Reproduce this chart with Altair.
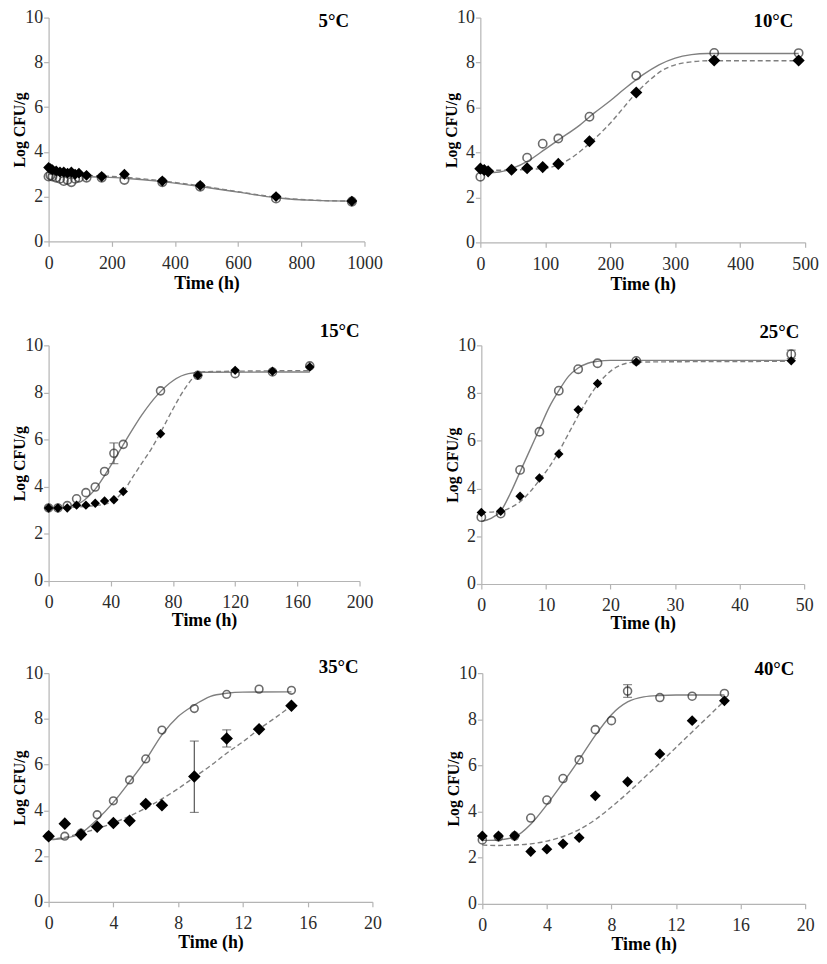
import altair as alt
import pandas as pd

FONT = "Liberation Serif"
AXIS_GRAY = "#b4b4b4"
LINE_GRAY = "#7f7f7f"

# ---------------- 5 °C ----------------
t5_circ_t = [0, 6, 12, 24, 36, 48, 60, 72, 84, 96, 120, 168, 240, 360, 480, 720, 960]
t5_circ_v = [2.9, 2.95, 2.9, 2.85, 2.8, 2.7, 2.75, 2.65, 2.8, 2.85, 2.85, 2.85, 2.75, 2.65, 2.45, 1.92, 1.78]
t5_dia_t = [0, 6, 12, 24, 36, 48, 60, 72, 84, 96, 120, 168, 240, 360, 480, 720, 960]
t5_dia_v = [3.3, 3.25, 3.2, 3.15, 3.1, 3.1, 3.05, 3.1, 3.0, 3.05, 2.95, 2.9, 3.0, 2.7, 2.5, 2.0, 1.8]
t5_fit_c_t = [0, 120, 240, 360, 480, 600, 720, 840, 960]
t5_fit_c_v = [3.0, 2.9, 2.82, 2.67, 2.45, 2.2, 1.95, 1.83, 1.8]
t5_fit_d_t = [0, 120, 240, 360, 480, 600, 720, 840, 960]
t5_fit_d_v = [3.05, 2.95, 2.87, 2.7, 2.48, 2.22, 1.97, 1.84, 1.8]

# ---------------- 10 °C ----------------
t10_circ_t = [0, 72, 96, 120, 168, 240, 360, 490]
t10_circ_v = [2.92, 3.77, 4.39, 4.62, 5.59, 7.42, 8.43, 8.42]
t10_dia_t = [0, 6, 12, 48, 72, 96, 120, 168, 240, 360, 490]
t10_dia_v = [3.28, 3.22, 3.16, 3.23, 3.3, 3.35, 3.49, 4.5, 6.67, 8.09, 8.09]
t10_fit_c_t = [0, 25, 50, 75, 100, 125, 150, 175, 200, 225, 250, 275, 300, 325, 350, 490]
t10_fit_c_v = [3.1, 3.12, 3.3, 3.65, 4.15, 4.65, 5.15, 5.75, 6.3, 6.9, 7.45, 7.9, 8.2, 8.35, 8.4, 8.4]
t10_fit_d_t = [0, 50, 100, 120, 140, 160, 180, 200, 220, 240, 260, 280, 300, 325, 350, 490]
t10_fit_d_v = [3.2, 3.22, 3.3, 3.45, 3.75, 4.2, 4.72, 5.3, 5.98, 6.65, 7.2, 7.65, 7.9, 8.03, 8.08, 8.08]

# ---------------- 15 °C ----------------
t15_circ_t = [0, 6, 12, 18, 24, 30, 36, 42, 48, 72, 96, 120, 144, 168]
t15_circ_v = [3.1, 3.1, 3.2, 3.49, 3.75, 3.99, 4.65, 5.42, 5.8, 8.07, 8.73, 8.8, 8.87, 9.13]
t15_dia_t = [0, 6, 12, 18, 24, 30, 36, 42, 48, 72, 96, 120, 144, 168]
t15_dia_v = [3.1, 3.1, 3.1, 3.22, 3.22, 3.3, 3.4, 3.45, 3.8, 6.25, 8.73, 8.94, 8.9, 9.08]
t15_fit_c_t = [0, 10, 20, 30, 40, 50, 60, 70, 80, 90, 100, 168]
t15_fit_c_v = [3.1, 3.12, 3.3, 3.9, 4.9, 6.0, 7.05, 7.9, 8.5, 8.8, 8.86, 8.87]
t15_fit_d_t = [0, 30, 40, 48, 55, 60, 66, 72, 80, 88, 95, 100, 168]
t15_fit_d_v = [3.1, 3.2, 3.35, 3.8, 4.5, 5.0, 5.6, 6.3, 7.3, 8.2, 8.75, 8.88, 8.93]
t15_err_t = [42]
t15_err_lo = [4.98]
t15_err_hi = [5.86]

# ---------------- 25 °C ----------------
t25_circ_t = [0, 3, 6, 9, 12, 15, 18, 24, 48]
t25_circ_v = [2.8, 2.95, 4.78, 6.38, 8.1, 9.0, 9.25, 9.35, 9.63]
t25_dia_t = [0, 3, 6, 9, 12, 15, 18, 24, 48]
t25_dia_v = [3.0, 3.05, 3.68, 4.44, 5.45, 7.3, 8.4, 9.3, 9.35]
t25_fit_c_t = [0, 1.5, 3, 4.5, 6, 7.5, 9, 10.5, 12, 13.5, 15, 16.5, 18, 20, 48]
t25_fit_c_v = [2.62, 2.75, 3.05, 3.8, 4.7, 5.6, 6.5, 7.4, 8.1, 8.7, 9.05, 9.25, 9.33, 9.37, 9.37]
t25_fit_d_t = [0, 3, 4.5, 6, 7.5, 9, 10.5, 12, 13.5, 15, 16.5, 18, 19.5, 21, 22.5, 24, 48]
t25_fit_d_v = [3.0, 3.05, 3.2, 3.45, 3.85, 4.35, 4.9, 5.55, 6.3, 7.05, 7.75, 8.35, 8.8, 9.1, 9.25, 9.3, 9.33]
t25_err_t = [48]
t25_err_lo = [9.45]
t25_err_hi = [9.8]

# ---------------- 35 °C ----------------
t35_circ_t = [0, 1, 2, 3, 4, 5, 6, 7, 9, 11, 13, 15]
t35_circ_v = [2.87, 2.87, 3.0, 3.81, 4.42, 5.33, 6.25, 7.51, 8.45, 9.07, 9.3, 9.25]
t35_dia_t = [0, 1, 2, 3, 4, 5, 6, 7, 9, 11, 13, 15]
t35_dia_v = [2.87, 3.42, 2.94, 3.28, 3.45, 3.55, 4.28, 4.22, 5.48, 7.14, 7.55, 8.57]
t35_fit_c_t = [0, 1, 2, 3, 4, 5, 6, 7, 8, 9, 10, 11, 12, 15]
t35_fit_c_v = [2.72, 2.78, 3.0, 3.6, 4.35, 5.25, 6.2, 7.3, 8.1, 8.6, 8.98, 9.12, 9.17, 9.18]
t35_fit_d_t = [0, 1, 2, 3, 4, 5, 6, 7, 8, 9, 10, 11, 12, 13, 14, 15]
t35_fit_d_v = [2.72, 2.82, 3.0, 3.2, 3.45, 3.75, 4.1, 4.5, 4.95, 5.45, 5.95, 6.5, 7.0, 7.55, 8.05, 8.57]
t35_err_t = [9, 11]
t35_err_lo = [3.91, 6.77]
t35_err_hi = [7.03, 7.52]

# ---------------- 40 °C ----------------
t40_circ_t = [0, 1, 2, 3, 4, 5, 6, 7, 8, 9, 11, 13, 15]
t40_circ_v = [2.77, 2.9, 2.94, 3.72, 4.5, 5.43, 6.24, 7.55, 7.94, 9.22, 8.94, 9.0, 9.12]
t40_dia_t = [0, 1, 2, 3, 4, 5, 6, 7, 9, 11, 13, 15]
t40_dia_v = [2.94, 2.94, 2.95, 2.27, 2.37, 2.6, 2.87, 4.68, 5.29, 6.5, 7.94, 8.8]
t40_fit_c_t = [0, 1, 2, 3, 4, 5, 6, 7, 8, 9, 10, 11, 12, 15]
t40_fit_c_v = [2.75, 2.77, 2.9, 3.45, 4.3, 5.25, 6.25, 7.3, 8.2, 8.75, 8.97, 9.03, 9.05, 9.05]
t40_fit_d_t = [0, 1, 2, 3, 4, 5, 6, 7, 8, 9, 10, 11, 12, 13, 14, 15]
t40_fit_d_v = [2.55, 2.53, 2.55, 2.6, 2.72, 2.92, 3.22, 3.65, 4.2, 4.8, 5.45, 6.1, 6.78, 7.45, 8.12, 8.8]
t40_err_t = [9]
t40_err_lo = [8.95]
t40_err_hi = [9.5]

y_ticks = [0, 2, 4, 6, 8, 10]


def panel(label, xticks, ct, cv, dt, dv, fct, fcv, fdt, fdv, et, elo, ehi,
          w, h, dsize, csize, lab_x, lab_y, xtitle_y):
    xmax = xticks[-1]
    xs = alt.Scale(domain=[0, xmax], nice=False, zero=True)
    ys = alt.Scale(domain=[0, 10], nice=False)
    xax = alt.Axis(values=xticks, format="d", title="Time (h)", titleY=xtitle_y, titleBaseline="middle")
    yax = alt.Axis(values=y_ticks, format="d", title="Log CFU/g", titleX=-29, titleBaseline="middle")

    def X():
        return alt.X("t:Q", scale=xs, axis=xax)

    def Y(f="v"):
        return alt.Y(f + ":Q", scale=ys, axis=yax)

    fit_c = pd.DataFrame({"t": fct, "v": fcv})
    fit_d = pd.DataFrame({"t": fdt, "v": fdv})
    circ = pd.DataFrame({"t": ct, "v": cv})
    dia = pd.DataFrame({"t": dt, "v": dv})

    layers = [
        alt.Chart(fit_c).mark_line(color=LINE_GRAY, strokeWidth=1.4, interpolate="monotone").encode(x=X(), y=Y()),
        alt.Chart(fit_d).mark_line(color=LINE_GRAY, strokeWidth=1.4, strokeDash=[5, 3], interpolate="monotone").encode(x=X(), y=Y()),
    ]
    if et:
        err = pd.DataFrame({"t": et, "lo": elo, "hi": ehi})
        layers += [
            alt.Chart(err).mark_rule(color="#555555", strokeWidth=1.2).encode(x=X(), y=Y("lo"), y2="hi:Q"),
            alt.Chart(err).mark_tick(color="#555555", orient="horizontal", size=9, thickness=1.2).encode(x=X(), y=Y("lo")),
            alt.Chart(err).mark_tick(color="#555555", orient="horizontal", size=9, thickness=1.2).encode(x=X(), y=Y("hi")),
        ]
    layers += [
        alt.Chart(circ).mark_point(shape="circle", filled=False, color="#2e2e2e", strokeWidth=1.6, size=csize).encode(x=X(), y=Y()),
        alt.Chart(dia).mark_point(shape="diamond", filled=True, color="#000000", opacity=1, size=dsize).encode(x=X(), y=Y()),
        alt.Chart(pd.DataFrame({"lab": [label]})).mark_text(
            font=FONT, fontSize=19, fontWeight="bold", color="#000000", align="center", baseline="middle"
        ).encode(x=alt.value(lab_x), y=alt.value(lab_y), text="lab:N"),
    ]
    return alt.layer(*layers).properties(width=w, height=h)


p1 = panel("5°C", [0, 200, 400, 600, 800, 1000], t5_circ_t, t5_circ_v, t5_dia_t, t5_dia_v,
           t5_fit_c_t, t5_fit_c_v, t5_fit_d_t, t5_fit_d_v, [], [], [],
           319, 226, 120, 75, 288, 3, 43)
p2 = panel("10°C", [0, 100, 200, 300, 400, 500], t10_circ_t, t10_circ_v, t10_dia_t, t10_dia_v,
           t10_fit_c_t, t10_fit_c_v, t10_fit_d_t, t10_fit_d_v, [], [], [],
           328, 227, 150, 70, 296, 3, 43)
p3 = panel("15°C", [0, 40, 80, 120, 160, 200], t15_circ_t, t15_circ_v, t15_dia_t, t15_dia_v,
           t15_fit_c_t, t15_fit_c_v, t15_fit_d_t, t15_fit_d_v, t15_err_t, t15_err_lo, t15_err_hi,
           314, 238, 90, 65, 294, -14, 40)
p4 = panel("25°C", [0, 10, 20, 30, 40, 50], t25_circ_t, t25_circ_v, t25_dia_t, t25_dia_v,
           t25_fit_c_t, t25_fit_c_v, t25_fit_d_t, t25_fit_d_v, t25_err_t, t25_err_lo, t25_err_hi,
           326, 241, 90, 70, 301, -13, 40)
p5 = panel("35°C", [0, 4, 8, 12, 16, 20], t35_circ_t, t35_circ_v, t35_dia_t, t35_dia_v,
           t35_fit_c_t, t35_fit_c_v, t35_fit_d_t, t35_fit_d_v, t35_err_t, t35_err_lo, t35_err_hi,
           327, 231, 160, 60, 293, -6, 41)
p6 = panel("40°C", [0, 4, 8, 12, 16, 20], t40_circ_t, t40_circ_v, t40_dia_t, t40_dia_v,
           t40_fit_c_t, t40_fit_c_v, t40_fit_d_t, t40_fit_d_v, t40_err_t, t40_err_lo, t40_err_hi,
           326, 233, 120, 65, 295, -4, 41)

row1 = alt.hconcat(p1, p2, spacing=62)
row2 = alt.hconcat(p3, p4, spacing=72)
row3 = alt.hconcat(p5, p6, spacing=65)
top = alt.vconcat(row1, row2, spacing=29)

chart = alt.vconcat(top, row3, spacing=26).properties(
    padding={"left": 4, "top": -4, "right": 0, "bottom": 0}
).configure_view(stroke=None).configure_axis(
    grid=False,
    domainColor=AXIS_GRAY,
    domainWidth=1.2,
    tickColor=AXIS_GRAY,
    tickWidth=1.2,
    tickSize=5,
    labelFont=FONT,
    labelFontSize=18,
    labelColor="#2b2b2b",
    titleFont=FONT,
    titleFontWeight="bold",
    titleColor="#000000",
).configure_axisY(
    labelPadding=1,
    titleFontSize=16,
).configure_axisX(
    labelPadding=8,
    titleFontSize=18,
    labelFlush=False,
)

chart.save("out.html", embed_options={"renderer": "svg", "actions": False})
